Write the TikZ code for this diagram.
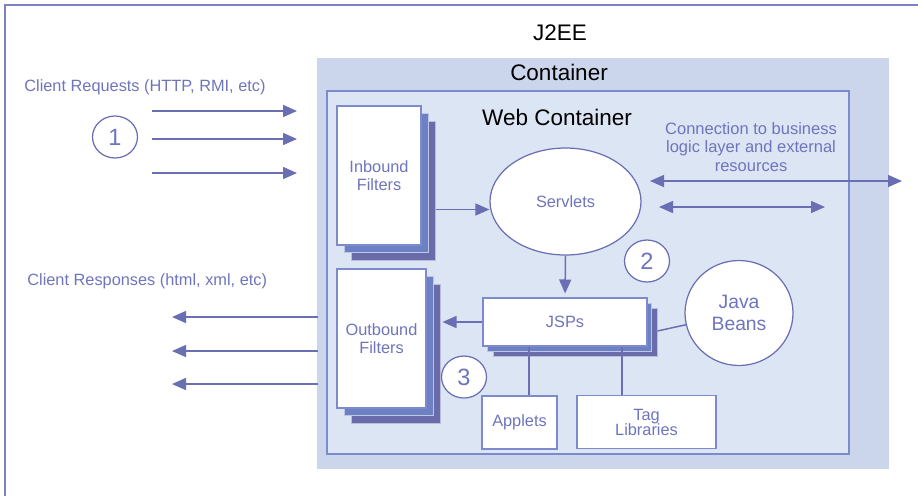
\documentclass[tikz,border=0pt]{standalone}
\usepackage{fontspec}
\setmainfont{Liberation Sans}
\usetikzlibrary{arrows.meta,positioning,shapes.geometric,shadows,calc}

\definecolor{jtext}{HTML}{6E75BC}
\definecolor{jline}{HTML}{6A6FB4}
\definecolor{jframe}{HTML}{7C82C6}
\definecolor{contfill}{HTML}{CBD5EC}
\definecolor{webfill}{HTML}{DCE5F3}
\definecolor{webline}{HTML}{7D8ACB}
\definecolor{layera}{HTML}{6C80C3}
\definecolor{layerb}{HTML}{6A6BAB}

\begin{document}
\begin{tikzpicture}[x=0.02cm, y=-0.02cm,
  lbl/.style={text=jtext, font=\fontsize{9.3}{10.2}\selectfont, align=center},
  title/.style={text=black, font=\fontsize{12.8}{14}\selectfont},
  arr/.style={draw=jline, line width=0.85pt, -{Triangle[length=0.28cm,width=0.24cm]}},
  darr/.style={arr, {Triangle[length=0.28cm,width=0.24cm]}-{Triangle[length=0.28cm,width=0.24cm]}},
  ln/.style={draw=jline, line width=0.85pt},
  whitebox/.style={rectangle, draw=webline, line width=0.6pt, fill=white, inner sep=0pt, lbl},
  filtstack/.style={whitebox,
    copy shadow={shadow xshift=0.29cm, shadow yshift=-0.30cm, fill=layerb, draw=white!55!layerb, line width=0.4pt},
    copy shadow={shadow xshift=0.14cm, shadow yshift=-0.15cm, fill=layera, draw=white!55!layera, line width=0.4pt}},
  jspstack/.style={whitebox,
    copy shadow={shadow xshift=0.20cm, shadow yshift=-0.20cm, fill=layerb, draw=white!55!layerb, line width=0.4pt},
    copy shadow={shadow xshift=0.09cm, shadow yshift=-0.10cm, fill=layera, draw=white!55!layera, line width=0.4pt}},
  oval/.style={ellipse, draw=jline, line width=0.7pt, fill=white, inner sep=0pt, lbl},
  numc/.style={oval, minimum width=0.9cm, minimum height=0.84cm,
    font=\fontsize{13.4}{14}\selectfont}]
  \clip (0,0) rectangle (918,495);
  % frame and containers
  \draw[jframe, line width=1pt] (5,520) -- (5,5) -- (940,5);
  \fill[contfill] (317,58) rectangle (889,469);
  \filldraw[fill=webfill, draw=webline, line width=0.7pt] (327,91) rectangle (849,454);
  \node[title] (j2ee) at (560,33) {J2EE};
  \node[title] (cont) at (559,72) {Container};
  \node[title] (web) at (557,117) {Web Container};

  % client side
  \node[lbl, anchor=west, inner sep=0pt] (req) at (24,87) {Client Requests (HTTP, RMI, etc)};
  \node[lbl, anchor=west, inner sep=0pt] (resp) at (27,281) {Client Responses (html, xml, etc)};
  \node[numc] (n1) at (115,137) {1};
  \foreach \i/\y in {1/111, 2/139, 3/173} {
    \coordinate (rq\i a) at (152,\y);
    \coordinate (rq\i b) at (297,\y);
    \draw[arr] (rq\i a) -- (rq\i b);
  }
  \foreach \i/\y in {1/317, 2/351, 3/384} {
    \coordinate (rs\i a) at (318,\y);
    \coordinate (rs\i b) at (172,\y);
    \draw[arr] (rs\i a) -- (rs\i b);
  }

  % filters, servlets, jsps
  \node[filtstack, minimum width=1.68cm, minimum height=2.78cm] (inb) at (379,175.5) {Inbound\\Filters};
  \node[filtstack, minimum width=1.78cm, minimum height=2.78cm] (outb) at (381.5,338.5) {Outbound\\Filters};
  \node[oval, minimum width=3.02cm, minimum height=2.14cm] (srv) at (565.5,201.5) {Servlets};
  \node[jspstack, minimum width=3.28cm, minimum height=0.96cm] (jsp) at (565,322) {JSPs};
  \node[oval, minimum width=2.16cm, minimum height=2.1cm,
    font=\fontsize{11}{13}\selectfont] (beans) at (739,313) {Java\\Beans};
  \node[whitebox, minimum width=1.5cm, minimum height=1.06cm] (apl) at (519.5,422.5) {Applets};
  \node[whitebox, minimum width=2.78cm, minimum height=1.06cm] (tag) at (646.5,422) {Tag\\[-1.6pt]Libraries};
  \node[numc] (n2) at (647,261) {2};
  \node[numc] (n3) at (464,377) {3};

  % connections
  \coordinate (sv) at ([yshift=-0.16cm]srv.west);
  \coordinate (inbr) at ([xshift=0.28cm]inb.east);
  \draw[arr] (inbr |- sv) -- (sv);
  \draw[arr, shorten >=0.08cm] (srv.south) -- (jsp.north);
  \coordinate (outr) at ([xshift=0.32cm]outb.east);
  \draw[arr] (jsp.west) -- (outr |- jsp.west);
  \draw[ln] ([xshift=0.2cm,yshift=-0.18cm]jsp.east) -- (beans);
  \draw[ln] ([xshift=0.19cm]apl.north) -- ([xshift=0.19cm]apl.north |- jsp.south);
  \draw[ln] ([xshift=-0.49cm]tag.north) -- ([xshift=-0.49cm]tag.north |- jsp.south);

  % business layer
  \node[lbl, font=\fontsize{9.4}{10.5}\selectfont] (biz) at (751,147)
    {Connection to business\\logic layer and external\\resources};
  \coordinate (bz1a) at (650,181); \coordinate (bz1b) at (902,181);
  \coordinate (bz2a) at (659,207); \coordinate (bz2b) at (825,207);
  \draw[darr] (bz1a) -- (bz1b);
  \draw[darr] (bz2a) -- (bz2b);
\end{tikzpicture}
\end{document}
